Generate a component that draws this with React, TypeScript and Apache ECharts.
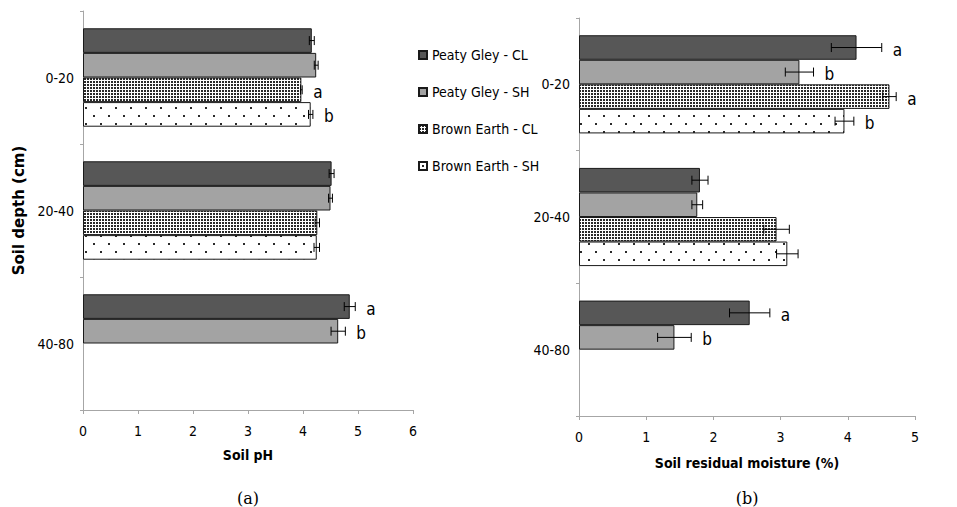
import React, { useEffect, useRef } from 'react';
import * as echarts from 'echarts';

// ---------- data ----------
const categories = ['0-20', '20-40', '40-80'];
const seriesNames = ['Peaty Gley - CL', 'Peaty Gley - SH', 'Brown Earth - CL', 'Brown Earth - SH'];

// (a) Soil pH
const phPeatyCL = [4.16, 4.52, 4.85];
const phPeatySH = [4.24, 4.5, 4.64];
const phBrownCL = [3.97, 4.26, null];
const phBrownSH = [4.14, 4.25, null];
const phErrPeatyCL = [0.045, 0.045, 0.1];
const phErrPeatySH = [0.035, 0.035, 0.13];
const phErrBrownCL = [0.015, 0.04, null];
const phErrBrownSH = [0.04, 0.05, null];
const phLetPeatyCL = ['', '', 'a'];
const phLetPeatySH = ['', '', 'b'];
const phLetBrownCL = ['a', '', ''];
const phLetBrownSH = ['b', '', ''];

// (b) Soil residual moisture (%)
const mPeatyCL = [4.13, 1.8, 2.54];
const mPeatySH = [3.28, 1.76, 1.42];
const mBrownCL = [4.62, 2.94, null];
const mBrownSH = [3.95, 3.1, null];
const mErrPeatyCL = [0.375, 0.12, 0.3];
const mErrPeatySH = [0.21, 0.08, 0.25];
const mErrBrownCL = [0.1, 0.19, null];
const mErrBrownSH = [0.14, 0.16, null];
const mLetPeatyCL = ['a', '', 'a'];
const mLetPeatySH = ['b', '', 'b'];
const mLetBrownCL = ['a', '', ''];
const mLetBrownSH = ['b', '', ''];

const phAxisMax = 6;
const mAxisMax = 5;

// ---------- styles ----------
const COND = '"DejaVu Sans Condensed", "DejaVu Sans", "Liberation Sans", sans-serif';
const CAT_GAP = 0.26;

function makePattern(kind: 'dense' | 'sparse') {
  const c = document.createElement('canvas');
  const ctx = c.getContext('2d')!;
  if (kind === 'dense') {
    c.width = 3;
    c.height = 3;
    ctx.fillStyle = '#ffffff';
    ctx.fillRect(0, 0, 3, 3);
    ctx.fillStyle = '#2a2a2a';
    ctx.fillRect(0, 0, 2, 2);
  } else {
    c.width = 15;
    c.height = 16;
    ctx.fillStyle = '#ffffff';
    ctx.fillRect(0, 0, 15, 16);
    ctx.fillStyle = '#2a2a2a';
    ctx.fillRect(3, 3, 2, 2);
    ctx.fillRect(10, 11, 2, 2);
  }
  return {
    image: c.toDataURL(),
    imageWidth: c.width,
    imageHeight: c.height,
    repeat: 'repeat',
  } as any;
}

function buildGrid(
  gi: number,
  values: (number | null)[][],
  errs: (number | null)[][],
  letters: string[][],
  fills: any[]
) {
  const series: any[] = [];
  values.forEach((vals, s) => {
    series.push({
      type: 'bar',
      name: seriesNames[s],
      xAxisIndex: gi,
      yAxisIndex: gi,
      data: vals,
      barGap: '0%',
      barCategoryGap: `${CAT_GAP * 100}%`,
      itemStyle: { color: fills[s], borderColor: '#1a1a1a', borderWidth: 1 },
      emphasis: { disabled: true },
      z: 2,
    });
  });
  const errData: number[][] = [];
  values.forEach((vals, s) => {
    vals.forEach((v, c) => {
      if (v != null) errData.push([v, c, s]);
    });
  });
  series.push({
    type: 'custom',
    name: `err-${gi}`,
    xAxisIndex: gi,
    yAxisIndex: gi,
    data: errData,
    z: 5,
    silent: true,
    encode: { x: 0, y: 1 },
    renderItem: (params: any, api: any) => {
      const v = api.value(0);
      const c = api.value(1);
      const s = api.value(2);
      const e = errs[s][c] as number;
      const band = api.size([0, 1])[1];
      const total = band * (1 - CAT_GAP);
      const w = total / values.length;
      const center = api.coord([v, c]);
      const y = center[1] - total / 2 + w * (s + 0.5);
      const x1 = api.coord([v - e, c])[0];
      const x2 = api.coord([v + e, c])[0];
      const ls = { stroke: '#000', lineWidth: 1 };
      const children: any[] = [
        { type: 'line', shape: { x1, y1: y, x2, y2: y }, style: ls },
        { type: 'line', shape: { x1, y1: y - 4.5, x2: x1, y2: y + 4.5 }, style: ls },
        { type: 'line', shape: { x1: x2, y1: y - 4.5, x2, y2: y + 4.5 }, style: ls },
      ];
      const letter = letters[s][c];
      if (letter) {
        children.push({
          type: 'text',
          x: x2 + 11,
          y: y + 2,
          style: {
            text: letter,
            fill: '#000',
            font: `17px ${COND}`,
            textAlign: 'left',
            textVerticalAlign: 'middle',
          },
        });
      }
      return { type: 'group', children };
    },
  });
  return series;
}

export default function App() {
  const ref = useRef<HTMLDivElement>(null);

  useEffect(() => {
    if (!ref.current) return;
    const chart = echarts.init(ref.current, undefined, { renderer: 'svg' });
    const dense = makePattern('dense');
    const sparse = makePattern('sparse');
    const fills = ['#575757', '#a3a3a3', dense, sparse];

    const axisLineStyle = { color: '#a6a6a6', width: 1 };
    const tickLabel = { color: '#000', fontSize: 14, fontFamily: COND };
    const nameStyle = { color: '#000', fontSize: 14, fontWeight: 'bold' as const, fontFamily: COND };

    const option: any = {
      animation: false,
      backgroundColor: '#ffffff',
      grid: [
        { left: 83, top: 11, width: 330, height: 399, containLabel: false, outerBoundsMode: 'none' },
        { left: 579, top: 18, width: 336, height: 398, containLabel: false, outerBoundsMode: 'none' },
      ],
      legend: {
        data: seriesNames,
        orient: 'vertical',
        left: 413,
        top: 43,
        itemWidth: 8,
        itemHeight: 8,
        itemGap: 23,
        icon: 'rect',
        selectedMode: false,
        textStyle: { color: '#000', fontSize: 14, fontFamily: COND },
      },
      xAxis: [
        {
          type: 'value',
          gridIndex: 0,
          min: 0,
          max: phAxisMax,
          interval: 1,
          name: 'Soil pH',
          nameLocation: 'middle',
          nameGap: 38,
          nameTextStyle: nameStyle,
          axisLine: { show: true, lineStyle: axisLineStyle },
          axisTick: { show: true, length: 4, lineStyle: axisLineStyle },
          splitLine: { show: false },
          axisLabel: { ...tickLabel, margin: 14 },
        },
        {
          type: 'value',
          gridIndex: 1,
          min: 0,
          max: mAxisMax,
          interval: 1,
          name: 'Soil residual moisture (%)',
          nameLocation: 'middle',
          nameGap: 40,
          nameTextStyle: nameStyle,
          axisLine: { show: true, lineStyle: axisLineStyle },
          axisTick: { show: true, length: 4, lineStyle: axisLineStyle },
          splitLine: { show: false },
          axisLabel: { ...tickLabel, margin: 14 },
        },
      ],
      yAxis: [
        {
          type: 'category',
          gridIndex: 0,
          data: categories,
          inverse: true,
          name: 'Soil depth (cm)',
          nameLocation: 'middle',
          nameGap: 57,
          nameTextStyle: { ...nameStyle, fontFamily: '"DejaVu Sans", sans-serif', fontSize: 15 },
          axisLine: { show: true, lineStyle: axisLineStyle },
          axisTick: { show: true, length: 3, lineStyle: axisLineStyle },
          axisLabel: { ...tickLabel, margin: 9 },
        },
        {
          type: 'category',
          gridIndex: 1,
          data: categories,
          inverse: true,
          axisLine: { show: true, lineStyle: axisLineStyle },
          axisTick: { show: true, length: 3, lineStyle: axisLineStyle },
          axisLabel: { ...tickLabel, margin: 9 },
        },
      ],
      series: [
        ...buildGrid(
          0,
          [phPeatyCL, phPeatySH, phBrownCL, phBrownSH],
          [phErrPeatyCL, phErrPeatySH, phErrBrownCL, phErrBrownSH],
          [phLetPeatyCL, phLetPeatySH, phLetBrownCL, phLetBrownSH],
          fills
        ),
        ...buildGrid(
          1,
          [mPeatyCL, mPeatySH, mBrownCL, mBrownSH],
          [mErrPeatyCL, mErrPeatySH, mErrBrownCL, mErrBrownSH],
          [mLetPeatyCL, mLetPeatySH, mLetBrownCL, mLetBrownSH],
          fills
        ),
      ],
      graphic: [
        {
          type: 'text',
          x: 248,
          y: 498,
          style: {
            text: '(a)',
            fill: '#000',
            font: '16px "DejaVu Serif", serif',
            textAlign: 'center',
            textVerticalAlign: 'middle',
          },
        },
        {
          type: 'text',
          x: 747,
          y: 498,
          style: {
            text: '(b)',
            fill: '#000',
            font: '16px "DejaVu Serif", serif',
            textAlign: 'center',
            textVerticalAlign: 'middle',
          },
        },
      ],
    };
    chart.setOption(option);
    return () => chart.dispose();
  }, []);

  return (
    <div
      ref={ref}
      style={{ position: 'absolute', left: 0, top: 0, width: 957, height: 507, background: '#fff' }}
    />
  );
}
